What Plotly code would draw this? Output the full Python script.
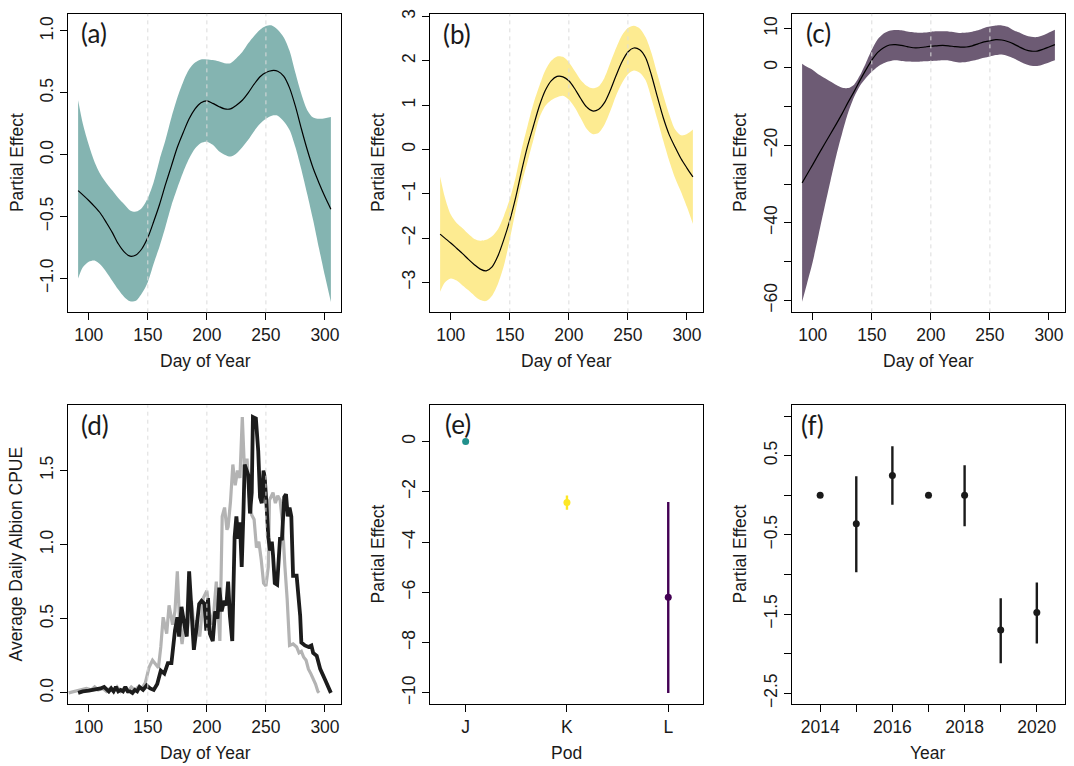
import plotly.graph_objects as go

# ---------------- data ----------------
DAYS = [91, 95, 100, 105, 110, 115, 120, 125, 130, 135, 140, 145, 150, 155, 160, 165,
        170, 175, 180, 185, 190, 195, 200, 205, 210, 215, 220, 225, 230, 235, 240, 245,
        250, 255, 260, 265, 270, 275, 280, 285, 290, 295, 300, 305]

A_FIT = [-0.29, -0.325, -0.37, -0.42, -0.475, -0.55, -0.63, -0.72, -0.785, -0.82, -0.81, -0.76,
         -0.67, -0.54, -0.40, -0.24, -0.09, 0.06, 0.18, 0.29, 0.37, 0.42, 0.435, 0.415, 0.39,
         0.37, 0.37, 0.40, 0.44, 0.50, 0.57, 0.63, 0.665, 0.68, 0.675, 0.635, 0.54, 0.39, 0.21,
         0.04, -0.11, -0.23, -0.34, -0.44]
A_HI = [0.44, 0.25, 0.08, -0.06, -0.16, -0.23, -0.29, -0.35, -0.40, -0.45, -0.46, -0.43,
        -0.35, -0.22, -0.04, 0.12, 0.30, 0.46, 0.59, 0.69, 0.745, 0.77, 0.77, 0.765, 0.755,
        0.74, 0.74, 0.78, 0.83, 0.90, 0.96, 1.01, 1.04, 1.045, 1.01, 0.95, 0.84, 0.66, 0.49,
        0.36, 0.30, 0.29, 0.295, 0.305]
A_LO = [-1.00, -0.91, -0.865, -0.855, -0.89, -0.95, -1.02, -1.09, -1.15, -1.185, -1.18, -1.12,
        -1.03, -0.88, -0.74, -0.58, -0.41, -0.27, -0.14, -0.03, 0.05, 0.095, 0.105, 0.08, 0.03,
        0.00, -0.015, 0.01, 0.06, 0.12, 0.19, 0.25, 0.29, 0.315, 0.315, 0.27, 0.20, 0.06, -0.12,
        -0.32, -0.53, -0.76, -0.98, -1.19]

B_FIT = [-1.91, -2.00, -2.11, -2.23, -2.35, -2.48, -2.60, -2.70, -2.74, -2.65, -2.40, -2.03,
         -1.60, -1.08, -0.48, 0.07, 0.53, 0.98, 1.33, 1.55, 1.65, 1.64, 1.55, 1.37, 1.15, 0.96,
         0.87, 0.90, 1.05, 1.33, 1.67, 1.98, 2.20, 2.29, 2.25, 2.07, 1.67, 1.18, 0.71, 0.33,
         0.05, -0.21, -0.42, -0.62]
B_HI = [-0.61, -1.08, -1.47, -1.66, -1.78, -1.91, -2.02, -2.06, -2.04, -1.96, -1.80, -1.50,
        -1.12, -0.62, 0.00, 0.53, 1.03, 1.43, 1.78, 2.00, 2.10, 2.09, 1.97, 1.77, 1.57, 1.44,
        1.38, 1.42, 1.61, 1.95, 2.29, 2.58, 2.74, 2.79, 2.73, 2.53, 2.17, 1.69, 1.22, 0.79,
        0.45, 0.32, 0.35, 0.45]
B_LO = [-3.21, -3.00, -2.91, -2.96, -3.07, -3.18, -3.30, -3.40, -3.42, -3.30, -3.03, -2.62,
        -2.03, -1.38, -0.77, -0.28, 0.22, 0.71, 0.98, 1.11, 1.18, 1.21, 1.12, 0.95, 0.71, 0.47,
        0.35, 0.37, 0.55, 0.86, 1.22, 1.50, 1.70, 1.78, 1.73, 1.56, 1.14, 0.67, 0.19, -0.26,
        -0.65, -0.96, -1.30, -1.68]

C_FIT = [-29.7, -27.6, -25.0, -22.3, -19.7, -17.1, -14.5, -11.8, -8.9, -6.2, -3.3, -0.6, 1.9,
         3.9, 5.1, 5.8, 5.9, 5.7, 5.4, 5.1, 5.1, 5.3, 5.5, 5.6, 5.7, 5.6, 5.4, 5.25, 5.3, 5.6,
         6.1, 6.6, 6.9, 7.2, 7.1, 6.7, 6.1, 5.3, 4.6, 4.25, 4.25, 4.7, 5.3, 5.9]
C_HI = [1.0, 0.2, -0.6, -1.8, -2.7, -3.6, -4.5, -5.2, -5.3, -4.4, -2.0, 1.2, 4.6, 7.3, 8.8, 9.5,
        9.7, 9.6, 9.3, 9.1, 8.95, 9.0, 9.25, 9.35, 9.35, 9.3, 9.1, 8.9, 9.0, 9.25, 9.6, 10.2,
        10.55, 10.8, 10.85, 10.5, 9.6, 9.0, 8.3, 7.9, 7.85, 8.3, 9.0, 9.75]
C_LO = [-60.3, -55.8, -50.0, -43.0, -36.0, -29.2, -22.6, -16.8, -11.6, -7.6, -4.7, -2.7, -1.1,
        0.2, 1.1, 1.6, 1.85, 1.7, 1.55, 1.5, 1.5, 1.6, 1.7, 1.75, 1.85, 1.8, 1.5, 1.3, 1.4, 1.75,
        2.1, 2.5, 2.85, 3.2, 3.35, 3.0, 2.4, 1.6, 0.9, 0.45, 0.4, 0.8, 1.3, 1.85]

GRAY_DAY = [83, 88, 93, 98, 102, 105, 108, 112, 115, 118, 121, 124, 127, 130, 133, 136, 139,
            142, 145, 148, 151, 154, 157, 159, 161, 163, 166, 168, 171, 173, 175, 177, 179, 181,
            183, 185, 187, 189, 191, 194, 197, 200, 202, 205, 208, 211, 213, 215, 217, 218, 220,
            222, 224, 226, 228, 230, 232, 234, 236, 238, 240, 242, 244, 246, 248, 250, 252, 253,
            256, 258, 260, 262, 264, 266, 268, 270, 273, 276, 278, 280, 282, 284, 286, 288, 290,
            292, 294, 295]
GRAY_VAL = [0.00, 0.01, 0.02, 0.03, 0.02, 0.04, 0.02, 0.03, 0.01, 0.03, 0.01, 0.04, 0.01, 0.03,
            0.01, 0.04, 0.02, 0.04, 0.03, 0.07, 0.17, 0.22, 0.19, 0.17, 0.31, 0.51, 0.40, 0.59,
            0.46, 0.55, 0.82, 0.46, 0.33, 0.46, 0.40, 0.51, 0.62, 0.45, 0.49, 0.38, 0.64, 0.69,
            0.55, 0.46, 0.75, 0.35, 1.19, 1.25, 1.10, 1.12, 1.29, 1.54, 1.40, 1.50, 1.45, 1.86,
            1.47, 1.58, 1.32, 1.20, 1.17, 0.98, 1.02, 0.90, 0.74, 0.72, 0.85, 1.30, 1.35, 1.28,
            1.33, 1.30, 1.15, 0.86, 0.63, 0.32, 0.33, 0.31, 0.27, 0.28, 0.24, 0.22, 0.16, 0.13,
            0.10, 0.06, 0.01, 0.00]

BLACK_DAY = [91, 95, 100, 105, 110, 113, 115, 117, 119, 121, 123, 125, 127, 129, 131, 133, 135,
             137, 139, 141, 143, 146, 149, 152, 155, 158, 161, 164, 167, 170, 173, 175, 176.5,
             178.5, 181, 183, 185, 187, 189, 191, 193.5, 195.5, 198, 199.5, 201, 202.5, 205, 207,
             209, 210.5, 212.5, 214.5, 216.5, 218, 219.5, 221.5, 223.5, 225, 226.5, 228, 229.5,
             231, 232, 235, 236.5, 238, 239, 241.5, 243.5, 245, 246.5, 248, 249, 250.5, 252,
             253.5, 255, 256, 257.5, 259.5, 262, 263.5, 265.5, 267, 268.5, 270, 271.5, 273, 276,
             279, 280, 283, 286, 288.5, 290, 293, 296, 300, 305]
BLACK_VAL = [0.00, 0.01, 0.015, 0.02, 0.03, 0.04, 0.02, 0.01, 0.03, 0.01, 0.04, 0.01, 0.02,
             0.01, 0.04, 0.01, 0.01, 0.00, 0.02, 0.01, 0.04, 0.02, 0.05, 0.03, 0.02, 0.06, 0.15,
             0.13, 0.20, 0.20, 0.42, 0.51, 0.38, 0.58, 0.46, 0.38, 0.82, 0.51, 0.29, 0.42, 0.60,
             0.62, 0.60, 0.42, 0.64, 0.40, 0.35, 0.55, 0.50, 0.71, 0.55, 0.62, 0.59, 0.75, 0.52,
             0.35, 1.05, 1.19, 1.04, 1.15, 0.85, 1.23, 1.54, 1.47, 1.21, 1.35, 1.86, 1.85, 1.63,
             1.32, 1.28, 1.50, 1.45, 1.27, 1.05, 0.96, 1.02, 0.93, 0.74, 0.73, 1.05, 1.03, 1.32,
             1.34, 1.19, 1.25, 1.19, 0.79, 0.79, 0.52, 0.34, 0.32, 0.31, 0.32, 0.27, 0.25, 0.16,
             0.09, 0.00]

PODS = ["J", "K", "L"]
POD_EST = [0.0, -2.43, -6.2]
POD_LO = [0.0, -2.72, -10.0]
POD_HI = [0.0, -2.15, -2.41]
POD_COLORS = ["#21908C", "#FDE725", "#440154"]

YEARS = [2014, 2015, 2016, 2017, 2018, 2019, 2020]
YEAR_EST = [0.0, -0.36, 0.25, 0.0, 0.0, -1.70, -1.48]
YEAR_LO = [0.0, -0.97, -0.12, 0.0, -0.39, -2.12, -1.87]
YEAR_HI = [0.0, 0.24, 0.62, 0.0, 0.38, -1.30, -1.10]

# ---------------- layout geometry ----------------
W, H = 1074, 766
COLS = [(68, 341), (430, 703), (792, 1065)]
ROWS = [(9, 311), (405, 707)]
TICKFONT = dict(family="Liberation Sans, Arial, sans-serif", size=17.5, color="#1a1a1a")
LABFONT = dict(family="Lato, sans-serif", size=26, color="#1a1a1a")

fig = go.Figure()

def ax_names(i):
    return ("x" if i == 1 else f"x{i}", "y" if i == 1 else f"y{i}")

def base_axis(**kw):
    d = dict(showline=True, mirror=True, linecolor="black", linewidth=1, ticks="outside",
             ticklen=7, tickcolor="black", tickwidth=1, showgrid=False, zeroline=False,
             tickfont=TICKFONT)
    d.update(kw)
    return d

layout_axes = {}
for i in range(6):
    r, c = divmod(i, 3)
    x0, x1 = COLS[c]
    y0, y1 = ROWS[r]
    xa = "xaxis" if i == 0 else f"xaxis{i+1}"
    ya = "yaxis" if i == 0 else f"yaxis{i+1}"
    xn, yn = ax_names(i + 1)
    layout_axes[xa] = dict(domain=[x0 / W, x1 / W], anchor=yn)
    layout_axes[ya] = dict(domain=[1 - y1 / H, 1 - y0 / H], anchor=xn)

# Panels a-c: smooth fits with bands
bands = [(A_FIT, A_LO, A_HI, "#84B4B1"), (B_FIT, B_LO, B_HI, "#FDEB91"), (C_FIT, C_LO, C_HI, "#6D5B74")]
for k, (fit, lo, hi, col) in enumerate(bands):
    xn, yn = ax_names(k + 1)
    fig.add_trace(go.Scatter(x=DAYS, y=lo, mode="lines", line=dict(width=0, shape="spline", smoothing=0.8),
                             xaxis=xn, yaxis=yn, showlegend=False, hoverinfo="skip"))
    fig.add_trace(go.Scatter(x=DAYS, y=hi, mode="lines", line=dict(width=0, shape="spline", smoothing=0.8),
                             fill="tonexty", fillcolor=col, xaxis=xn, yaxis=yn, showlegend=False,
                             hoverinfo="skip"))
    fig.add_trace(go.Scatter(x=DAYS, y=fit, mode="lines",
                             line=dict(color="black", width=1.2, shape="spline", smoothing=0.8),
                             xaxis=xn, yaxis=yn, showlegend=False))

# Panel d
fig.add_trace(go.Scatter(x=GRAY_DAY, y=GRAY_VAL, mode="lines", line=dict(color="#B3B3B3", width=3.2),
                         xaxis="x4", yaxis="y4", showlegend=False))
fig.add_trace(go.Scatter(x=BLACK_DAY, y=BLACK_VAL, mode="lines", line=dict(color="#1C1C1C", width=3.8),
                         xaxis="x4", yaxis="y4", showlegend=False))

# Panel e
for p, est, lo, hi, col in zip(PODS, POD_EST, POD_LO, POD_HI, POD_COLORS):
    fig.add_trace(go.Scatter(x=[p], y=[est], mode="markers", marker=dict(color=col, size=7),
                             error_y=dict(type="data", symmetric=False, array=[hi - est],
                                          arrayminus=[est - lo], width=0, thickness=2.4, color=col),
                             xaxis="x5", yaxis="y5", showlegend=False))

# Panel f
fig.add_trace(go.Scatter(x=YEARS, y=YEAR_EST, mode="markers", marker=dict(color="#1a1a1a", size=7),
                         error_y=dict(type="data", symmetric=False,
                                      array=[h - e for h, e in zip(YEAR_HI, YEAR_EST)],
                                      arrayminus=[e - l for e, l in zip(YEAR_EST, YEAR_LO)],
                                      width=0, thickness=2.4, color="#1a1a1a"),
                         xaxis="x6", yaxis="y6", showlegend=False))

day_ticks = [100, 150, 200, 250, 300]
for i in range(1, 5):
    xa = "xaxis" if i == 1 else f"xaxis{i}"
    layout_axes[xa].update(base_axis(range=[82.44, 313.56], tickvals=day_ticks, ticktext=[str(t) for t in day_ticks]))

layout_axes["yaxis"].update(base_axis(range=[-1.274, 1.138], tickvals=[-1.0, -0.5, 0.0, 0.5, 1.0],
                                      ticktext=["\u22121.0", "\u22120.5", "0.0", "0.5", "1.0"], tickangle=-90))
layout_axes["yaxis2"].update(base_axis(range=[-3.676, 3.06], tickvals=[-3, -2, -1, 0, 1, 2, 3],
                                       ticktext=["\u22123", "\u22122", "\u22121", "0", "1", "2", "3"], tickangle=-90))
layout_axes["yaxis3"].update(base_axis(range=[-63.05, 13.82], tickvals=[-60, -50, -40, -30, -20, -10, 0, 10],
                                       ticktext=["\u221260", "", "\u221240", "", "\u221220", "", "0", "10"], tickangle=-90))
layout_axes["yaxis4"].update(base_axis(range=[-0.073, 1.94], tickvals=[0, 0.5, 1.0, 1.5],
                                       ticktext=["0.0", "0.5", "1.0", "1.5"], tickangle=-90))
layout_axes["xaxis5"].update(base_axis(type="category", range=[-0.352, 2.343]))
layout_axes["yaxis5"].update(base_axis(range=[-10.43, 1.44], tickvals=[-10, -8, -6, -4, -2, 0],
                                       ticktext=["\u221210", "\u22128", "\u22126", "\u22124", "\u22122", "0"], tickangle=-90))
layout_axes["xaxis6"].update(base_axis(range=[2013.22, 2020.78], tickvals=YEARS,
                                       ticktext=["2014", "", "2016", "", "2018", "", "2020"]))
layout_axes["yaxis6"].update(base_axis(range=[-2.63, 1.136], tickvals=[-2.5, -2.0, -1.5, -1.0, -0.5, 0.0, 0.5, 1.0],
                                       ticktext=["\u22122.5", "", "\u22121.5", "", "\u22120.5", "", "0.5", ""], tickangle=-90))

shapes = []
for i in range(1, 5):
    xn, yn = ax_names(i)
    for d in (150, 200, 250):
        shapes.append(dict(type="line", xref=xn, yref=f"{yn} domain", x0=d, x1=d, y0=0, y1=1,
                           line=dict(color="#DCDCDC", width=1, dash="4px,4px"), layer="above"))

annotations = []
labels = [("(a)", 94, 28), ("(b)", 457, 29), ("(c)", 818, 28), ("(d)", 95, 425), ("(e)", 458, 424), ("(f)", 812, 425)]
for t, x, y in labels:
    annotations.append(dict(text=t, x=x / W, y=1 - y / H, xref="paper", yref="paper", showarrow=False,
                            xanchor="center", yanchor="middle", font=LABFONT))
xtitles = [("Day of Year", 205, 360), ("Day of Year", 566, 360), ("Day of Year", 928, 360),
           ("Day of Year", 205, 757), ("Pod", 566, 757), ("Year", 928, 757)]
for t, x, y in xtitles:
    annotations.append(dict(text=t, x=x / W, y=1 - y / H, xref="paper", yref="paper", showarrow=False,
                            xanchor="center", yanchor="middle", font=TICKFONT))
ytitles = [("Partial Effect", 17, 160), ("Partial Effect", 378, 160), ("Partial Effect", 740, 160),
           ("Average Daily Albion CPUE", 16, 556), ("Partial Effect", 378, 556), ("Partial Effect", 740, 556)]
for t, x, y in ytitles:
    annotations.append(dict(text=t, x=x / W, y=1 - y / H, xref="paper", yref="paper", showarrow=False,
                            xanchor="center", yanchor="middle", textangle=-90, font=TICKFONT))

fig.update_layout(width=W, height=H, margin=dict(l=0, r=0, t=0, b=0), paper_bgcolor="white",
                  plot_bgcolor="white", shapes=shapes, annotations=annotations, showlegend=False,
                  **layout_axes)

fig.write_html("out.html", config={"displayModeBar": False},
               post_script="document.body.style.margin='0';")
